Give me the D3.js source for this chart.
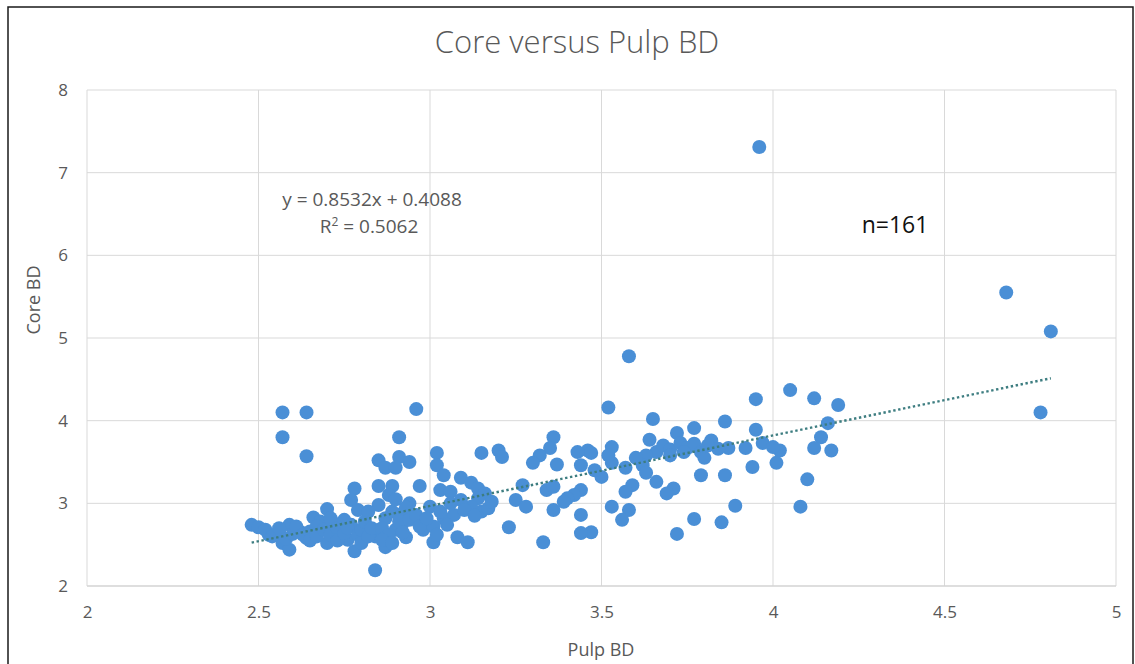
<!DOCTYPE html>
<html><head><meta charset="utf-8">
<script src="https://cdn.jsdelivr.net/npm/d3@7"></script>
<style>body{margin:0;background:#fff}svg{display:block}text{font-family:"Open Sans",Lato,sans-serif}</style>
</head><body>
<script>
const title = "Core versus Pulp BD";
const xLabel = "Pulp BD", yLabel = "Core BD";
const xTicks = [2, 2.5, 3, 3.5, 4, 4.5, 5];
const yTicks = [2, 3, 4, 5, 6, 7, 8];
const slope = 0.8532, intercept = 0.4088, r2 = 0.5062;
const nLabel = "n=161";
const pulpBD = [3.96,4.68,4.81,4.78,3.58,3.52,2.96,2.57,2.64,2.57,2.64,2.84,
4.05,4.12,4.19,3.95,4.16,4.14,4.12,4.17,4.10,4.08,3.95,3.86,4.02,3.97,3.92,4.01,3.94,3.89,3.85,3.86,3.87,4.00,
3.79,3.77,3.72,3.64,3.66,3.68,3.70,3.72,3.73,3.75,3.77,3.77,3.79,3.80,3.82,3.84,3.65,3.70,3.74,3.81,
3.63,3.62,3.57,3.53,3.53,3.46,3.63,3.66,3.59,3.57,3.71,3.69,3.53,3.58,3.56,3.47,3.44,3.44,3.44,3.50,3.48,3.44,3.43,3.47,3.36,3.35,3.32,3.30,3.37,3.27,3.34,3.36,3.42,3.40,3.39,3.25,3.28,3.36,3.23,3.33,3.52,3.60,
3.02,3.02,3.04,3.09,2.97,3.03,3.15,3.20,3.21,3.12,3.14,3.16,3.15,3.17,3.14,3.12,3.06,3.00,2.94,2.92,2.93,3.01,3.08,3.11,3.04,3.07,3.09,2.98,3.01,
2.85,2.91,2.94,2.87,2.90,2.91,2.85,2.89,
2.48,2.50,2.53,2.56,2.57,2.59,2.59,2.62,2.64,2.66,2.68,2.70,2.72,2.74,2.77,2.78,2.77,2.79,2.78,2.76,2.70,2.85,2.87,2.84,2.87,2.90,2.92,2.88,
2.52,2.54,2.56,2.58,2.60,2.61,2.63,2.65,2.65,2.67,2.67,2.69,2.71,2.71,2.73,2.73,2.75,2.75,2.76,2.79,2.80,2.80,2.81,2.82,2.83,2.82,
2.86,2.88,2.89,2.90,2.91,2.92,2.93,2.94,2.86,2.89,
2.96,2.97,2.99,3.02,3.03,3.05,3.06,3.10,3.13,3.18];
const coreBD = [7.31,5.55,5.08,4.10,4.78,4.16,4.14,4.10,4.10,3.80,3.57,2.19,
4.37,4.27,4.19,4.26,3.97,3.80,3.67,3.64,3.29,2.96,3.89,3.99,3.64,3.73,3.67,3.49,3.44,2.97,2.77,3.34,3.67,3.68,
3.34,2.81,2.63,3.77,3.62,3.70,3.65,3.85,3.73,3.67,3.91,3.72,3.62,3.55,3.76,3.66,4.02,3.58,3.62,3.70,
3.58,3.46,3.43,3.49,3.68,3.64,3.37,3.26,3.22,3.14,3.18,3.12,2.96,2.92,2.80,2.65,2.64,2.86,3.16,3.32,3.40,3.46,3.62,3.61,3.80,3.67,3.58,3.49,3.47,3.22,3.16,3.20,3.10,3.06,3.02,3.04,2.96,2.92,2.71,2.53,3.58,3.55,
3.61,3.46,3.34,3.31,3.21,3.16,3.61,3.64,3.56,3.25,3.18,3.12,2.90,2.94,3.06,2.96,3.14,2.96,3.00,2.76,2.59,2.53,2.59,2.53,2.82,2.86,3.04,2.68,2.72,
3.52,3.56,3.50,3.43,3.43,3.80,3.21,3.21,
2.74,2.71,2.62,2.65,2.52,2.44,2.74,2.66,2.58,2.83,2.78,2.93,2.76,2.66,2.74,3.18,3.04,2.92,2.42,2.56,2.52,2.98,2.82,2.60,2.47,2.68,2.88,3.10,
2.68,2.60,2.70,2.57,2.63,2.72,2.62,2.66,2.55,2.72,2.60,2.68,2.62,2.82,2.70,2.55,2.64,2.80,2.70,2.62,2.68,2.52,2.78,2.60,2.70,2.90,
2.70,2.62,2.90,3.05,2.78,2.65,2.95,2.80,2.56,2.52,
2.86,2.72,2.82,2.62,2.90,2.74,3.00,2.92,2.85,3.02];

const W = 1135, H = 664;
const svg = d3.select("body").append("svg").attr("width", W).attr("height", H);
const m = {left: 87, right: 1116, top: 90, bottom: 586};
const x = d3.scaleLinear().domain([2, 5]).range([m.left, m.right]);
const y = d3.scaleLinear().domain([2, 8]).range([m.bottom, m.top]);
const grey = "#595959";

svg.append("rect").attr("x", 8).attr("y", 7).attr("width", 1125).attr("height", 700)
  .attr("fill", "#fff").attr("stroke", "#1a1a1a").attr("stroke-width", 1.5);

// gridlines
svg.append("g").selectAll("line").data(yTicks).join("line")
  .attr("x1", m.left).attr("x2", m.right).attr("y1", d => y(d)).attr("y2", d => y(d))
  .attr("stroke", "#d9d9d9").attr("stroke-width", 1);
svg.append("g").selectAll("line").data(xTicks).join("line")
  .attr("y1", m.top).attr("y2", m.bottom).attr("x1", d => x(d)).attr("x2", d => x(d))
  .attr("stroke", "#d9d9d9").attr("stroke-width", 1);

// axes labels
const xAxis = svg.append("g").attr("transform", `translate(0,${m.bottom})`)
  .call(d3.axisBottom(x).tickValues(xTicks).tickSize(0).tickPadding(20).tickFormat(d3.format("")));
const yAxis = svg.append("g").attr("transform", `translate(${m.left},0)`)
  .call(d3.axisLeft(y).tickValues(yTicks).tickSize(0).tickPadding(19).tickFormat(d3.format("")));
[xAxis, yAxis].forEach(a => {
  a.select(".domain").remove();
  a.selectAll("text").attr("fill", grey).style("font-size", "17px").style("font-family", "'Open Sans', sans-serif");
});
svg.append("line").attr("x1", m.left).attr("x2", m.right).attr("y1", m.bottom).attr("y2", m.bottom)
  .attr("stroke", "#d0d0d0").attr("stroke-width", 1);

// points
svg.append("g").selectAll("circle").data(pulpBD.map((v, i) => [v, coreBD[i]])).join("circle")
  .attr("cx", d => x(d[0])).attr("cy", d => y(d[1])).attr("r", 7)
  .attr("fill", "#4a8fd6");

// trendline
const xr = d3.extent(pulpBD);
svg.append("line")
  .attr("x1", x(xr[0])).attr("y1", y(slope * xr[0] + intercept))
  .attr("x2", x(xr[1])).attr("y2", y(slope * xr[1] + intercept))
  .attr("stroke", "#3d7d80").attr("stroke-width", 2.4).attr("stroke-dasharray", "2.4,2.6");

// texts
svg.append("text").attr("x", 577).attr("y", 53).attr("text-anchor", "middle")
  .attr("fill", grey).style("font-size", "31px").style("font-weight", 300).text(title);
svg.append("text").attr("x", 601).attr("y", 656).attr("text-anchor", "middle")
  .attr("fill", grey).style("font-size", "18px").text(xLabel);
svg.append("text").attr("transform", "translate(40,300) rotate(-90)").attr("text-anchor", "middle")
  .attr("fill", grey).style("font-size", "18px").text(yLabel);
svg.append("text").attr("x", 372).attr("y", 206).attr("text-anchor", "middle")
  .attr("fill", grey).style("font-size", "19px").text(`y = ${slope}x + ${intercept}`);
const rt = svg.append("text").attr("x", 369).attr("y", 233).attr("text-anchor", "middle")
  .attr("fill", grey).style("font-size", "19px");
rt.append("tspan").text("R");
rt.append("tspan").attr("dy", -7).style("font-size", "12px").text("2");
rt.append("tspan").attr("dy", 7).text(` = ${r2}`);
svg.append("text").attr("x", 895).attr("y", 233).attr("text-anchor", "middle")
  .attr("fill", "#111").style("font-size", "23px").text(nLabel);
</script>
</body></html>
